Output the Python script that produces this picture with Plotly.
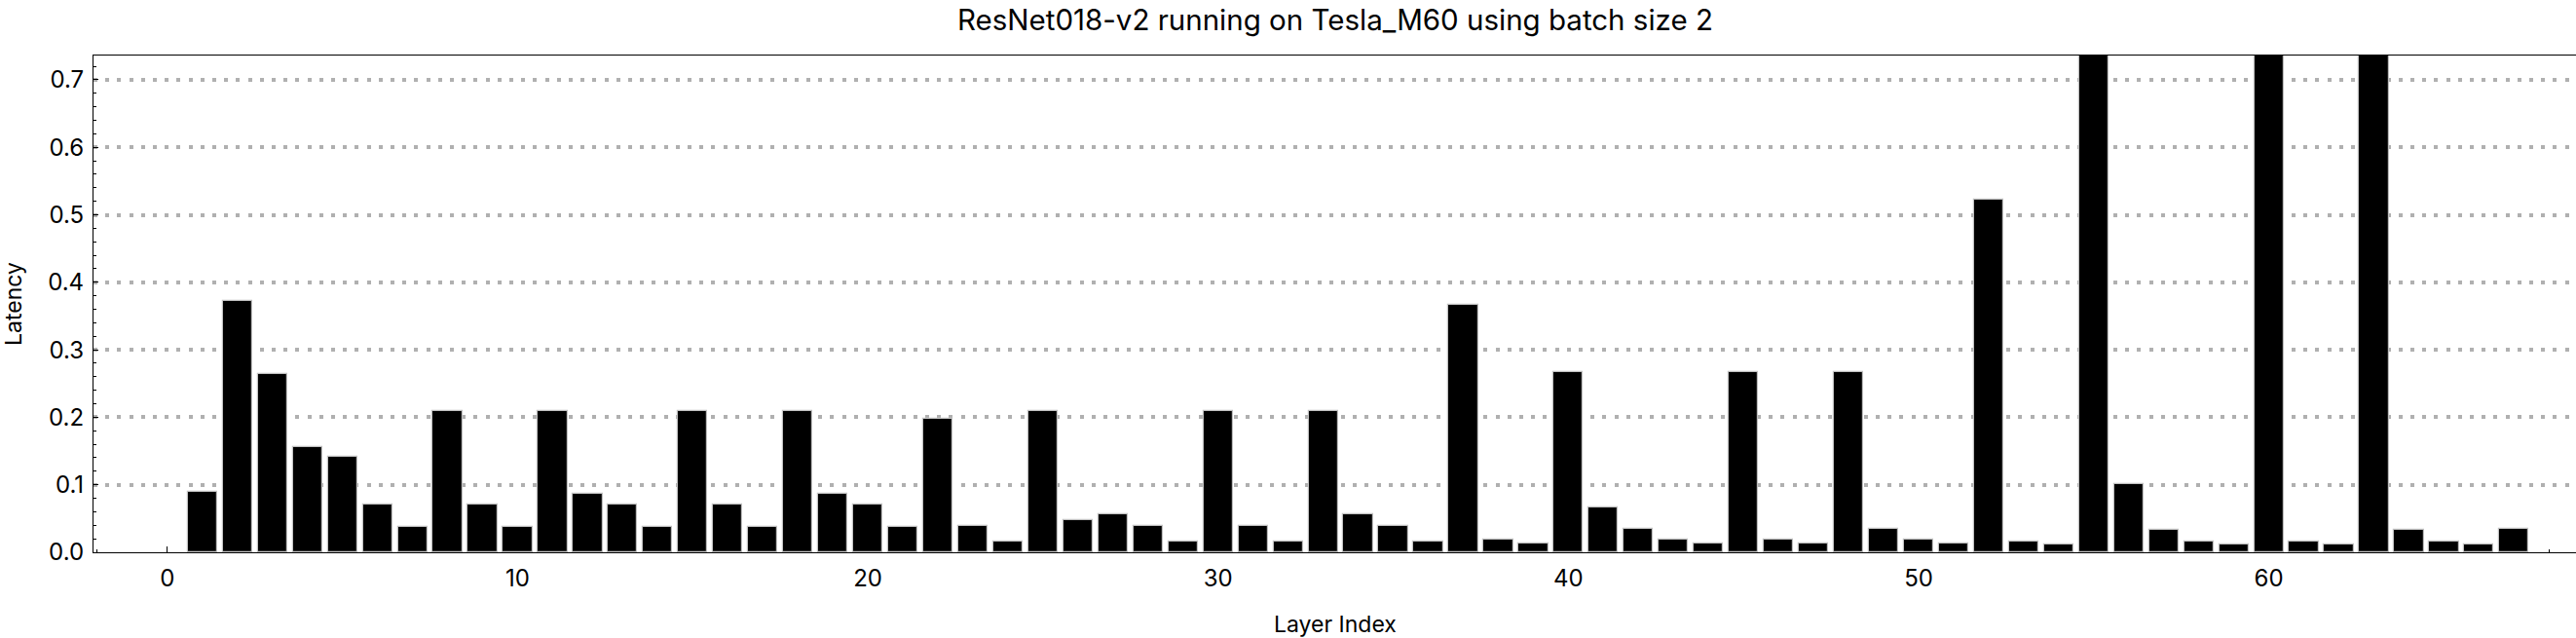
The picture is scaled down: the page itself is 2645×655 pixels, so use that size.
import plotly.graph_objects as go

title_text = "ResNet018-v2 running on Tesla_M60 using batch size 2"
x_label = "Layer Index"
y_label = "Latency"

layer_index = list(range(1, 68))
latency = [
    0.089, 0.372, 0.264, 0.156, 0.141, 0.070, 0.038, 0.209, 0.070, 0.038,
    0.209, 0.087, 0.070, 0.038, 0.209, 0.070, 0.038, 0.209, 0.087, 0.070,
    0.038, 0.198, 0.039, 0.016, 0.209, 0.048, 0.056, 0.039, 0.016, 0.209,
    0.039, 0.016, 0.209, 0.056, 0.039, 0.016, 0.366, 0.019, 0.013, 0.267,
    0.066, 0.034, 0.019, 0.013, 0.267, 0.019, 0.013, 0.267, 0.034, 0.019,
    0.013, 0.523, 0.016, 0.012, 0.95, 0.101, 0.033, 0.016, 0.012, 0.95,
    0.016, 0.012, 0.95, 0.033, 0.016, 0.012, 0.034,
]

W, H = 2645, 655
L, R, T, B = 95.5, 0, 56.7, 88.2
FONT = "Inter"

fig = go.Figure()
fig.add_trace(go.Bar(
    x=layer_index, y=latency, width=0.84,
    marker=dict(color="black", line=dict(color="#c0c0c0", width=1.2)),
    showlegend=False,
))

fig.update_layout(
    width=W, height=H,
    margin=dict(l=L, r=R, t=T, b=B, autoexpand=False),
    paper_bgcolor="white", plot_bgcolor="white",
    font=dict(family=FONT, size=24, color="black"),
    bargap=0,
    annotations=[
        dict(text=title_text, xref="paper", yref="paper", x=0.5, y=1,
             xanchor="center", yanchor="middle", yshift=37, showarrow=False,
             font=dict(size=29.5, family=FONT)),
        dict(text=x_label, xref="paper", yref="paper", x=0.5, y=0,
             xanchor="center", yanchor="middle", yshift=-74, showarrow=False,
             font=dict(size=23, family=FONT)),
        dict(text=y_label, xref="paper", yref="paper", x=0, y=0.5,
             xanchor="center", yanchor="middle", xshift=-82, textangle=-90,
             showarrow=False, font=dict(size=23, family=FONT)),
    ],
)

fig.update_xaxes(
    range=[-2.11, 68.77], tick0=0, dtick=10,
    showline=True, linecolor="black", linewidth=1.2, mirror=True,
    ticks="inside", ticklen=6, tickcolor="black", tickwidth=1,
    ticklabelstandoff=5,
    minor=dict(dtick=2, tick0=0, ticks="inside", ticklen=3, tickcolor="black", showgrid=False),
    showgrid=False, zeroline=False, layer="below traces",
    tickfont=dict(size=24, family=FONT),
)
fig.update_yaxes(
    range=[0, 0.736], tick0=0, dtick=0.1, tickformat=".1f",
    showline=True, linecolor="black", linewidth=1.2,
    ticks="inside", ticklen=4.5, tickcolor="black", tickwidth=1,
    ticklabelstandoff=4,
    minor=dict(dtick=0.02, tick0=0, ticks="inside", ticklen=2.8, tickcolor="black", showgrid=False),
    showgrid=True, gridcolor="#b0b0b0", gridwidth=3.6, griddash="4px,8.2px",
    zeroline=False,
    tickfont=dict(size=24, family=FONT),
)

fig.write_html("out.html", config={"displayModeBar": False},
               post_script="document.body.style.margin='0px';")
